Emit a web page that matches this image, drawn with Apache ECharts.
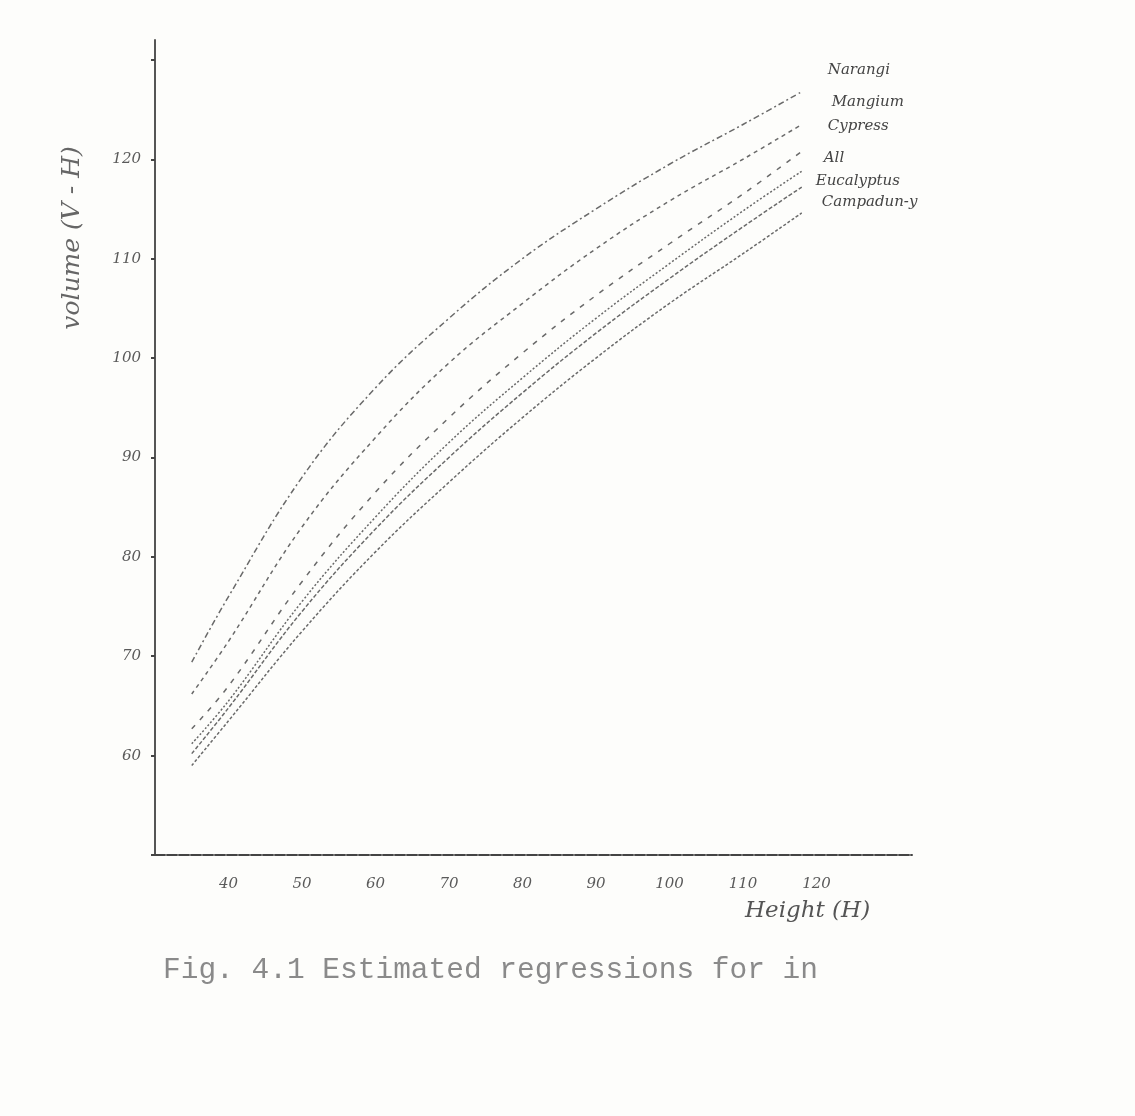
<!DOCTYPE html>
<html>
<head>
<meta charset="utf-8">
<script src="https://cdn.jsdelivr.net/npm/echarts@6/dist/echarts.min.js"></script>
<style>
html,body{margin:0;padding:0;background:#fdfdfb;}
#chart{width:1135px;height:1116px;}
</style>
</head>
<body>
<div id="chart"></div>
<script>
// Height (H) positions at which each curve is read
const heights = [35, 40, 50, 60, 70, 80, 90, 100, 110, 118];
const seriesNames = ['Narangi', 'Mangium', 'Cypress', 'All', 'Eucalyptus', 'Campadun-y'];
const narangi    = [69.4, 76.0, 88.0, 97.0, 104.0, 110.0, 115.0, 119.5, 123.5, 126.8];
const mangium    = [66.2, 71.5, 83.0, 92.0, 99.5, 105.5, 111.0, 115.8, 120.0, 123.5];
const cypress    = [62.7, 67.0, 77.5, 86.5, 94.0, 100.5, 106.3, 111.5, 116.5, 120.8];
const allSpecies = [61.2, 65.5, 75.5, 84.0, 91.5, 98.0, 104.0, 109.5, 114.8, 118.8];
const eucalyptus = [60.2, 64.8, 74.5, 82.8, 90.0, 96.5, 102.5, 108.0, 113.2, 117.2];
const campadun   = [59.0, 63.5, 72.5, 80.5, 87.5, 94.0, 100.0, 105.5, 110.5, 114.6];
const xTickLabels = [40, 50, 60, 70, 80, 90, 100, 110, 120];
const yTickLabels = [60, 70, 80, 90, 100, 110, 120];
const xAxisTitle = 'Height (H)';
const yAxisTitle = 'volume (V - H)';
const caption = 'Fig. 4.1 Estimated regressions for in';

const values = [narangi, mangium, cypress, allSpecies, eucalyptus, campadun];
const dashes = [[6,3,2,3],[4,4],[5,7],[2,2],[4,2],[3,2]];
const offsets = [[18,-22],[22,-22],[18,-25],[14,-13],[6,-6],[12,-11]];
const hand = {fontFamily:'DejaVu Serif', fontStyle:'italic', color:'#5a5a5a', fontSize:15};

const chart = echarts.init(document.getElementById('chart'));
chart.setOption({
  backgroundColor:'#fdfdfb',
  animation:false,
  grid:{left:155, right:223, top:40, bottom:261},
  title:{
    text:caption, left:158, top:950,
    textStyle:{fontFamily:'Liberation Mono', fontWeight:'normal', fontSize:29.5, color:'#8a8a8a'}
  },
  graphic:[
    {type:'text', left:745, top:900,
      style:{text:xAxisTitle, fontFamily:'DejaVu Serif', fontStyle:'italic', fontSize:23, fill:'#555'}},
    {type:'text', x:72, y:238, rotation:Math.PI/2,
      style:{text:yAxisTitle, fontFamily:'DejaVu Serif', fontStyle:'italic', fontSize:25, fill:'#666',
        align:'center', verticalAlign:'middle'}}
  ],
  xAxis:{
    type:'value', min:30, max:133, interval:10,
    axisLine:{lineStyle:{color:'#444', width:2, type:[10,2]}},
    axisTick:{show:false},
    splitLine:{show:false},
    axisLabel:Object.assign({}, hand, {margin:22, showMaxLabel:false,
      formatter:v => xTickLabels.indexOf(v) >= 0 ? String(v) : ''})
  },
  yAxis:{
    type:'value', min:50, max:132, interval:10,
    axisLine:{lineStyle:{color:'#555', width:2}},
    axisTick:{show:true, length:4, lineStyle:{color:'#444', width:2}},
    splitLine:{show:false},
    axisLabel:Object.assign({}, hand, {margin:14, showMaxLabel:false,
      formatter:v => yTickLabels.indexOf(v) >= 0 ? String(v) : ''})
  },
  series: values.map((arr, i) => ({
    name: seriesNames[i],
    type:'line', smooth:0.4, symbol:'none',
    data: heights.map((h, j) => [h, arr[j]]),
    lineStyle:{color:'#6a6a6a', width:1.5, type:dashes[i]},
    endLabel:{show:true, formatter:seriesNames[i], offset:offsets[i],
      fontFamily:'DejaVu Serif', fontStyle:'italic', fontSize:15, color:'#444'}
  }))
});
</script>
</body>
</html>
